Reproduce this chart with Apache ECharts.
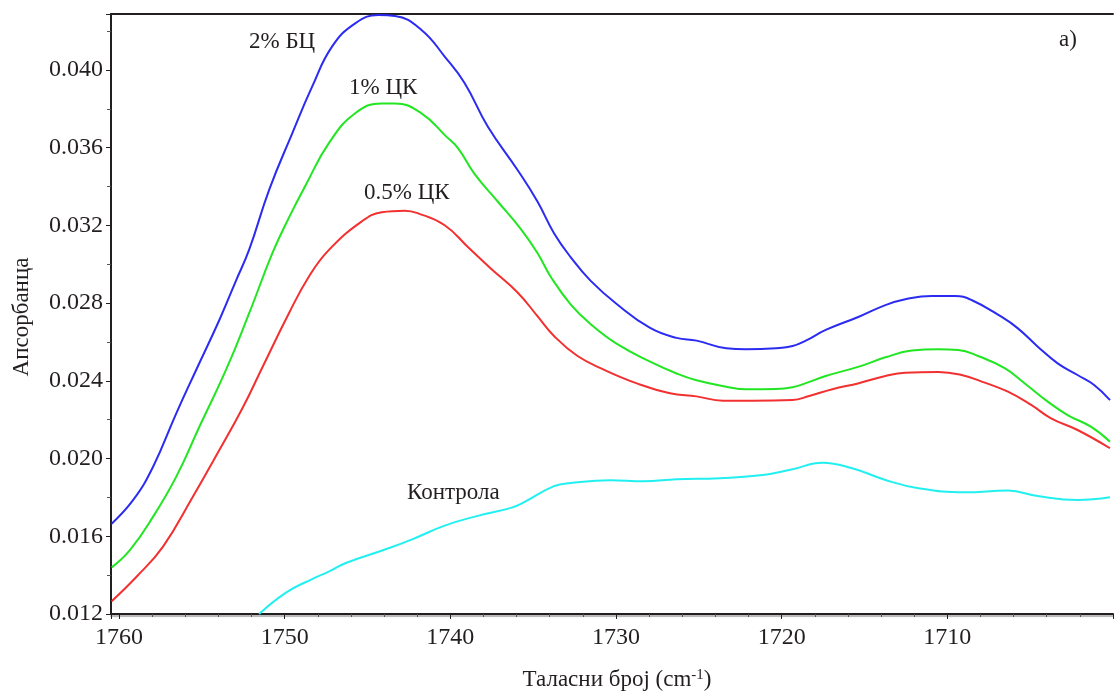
<!DOCTYPE html>
<html>
<head>
<meta charset="utf-8">
<script src="https://cdn.jsdelivr.net/npm/echarts@6/dist/echarts.min.js"></script>
<style>
html,body{margin:0;padding:0;background:#fff;}
#chart{width:1116px;height:695px;}
</style>
</head>
<body>
<div id="chart"></div>
<script>
// ---- data (wavenumber, absorbance) ----
const blueX = [1760.44,1759.14,1757.94,1756.54,1755.34,1753.94,1752.94,1752.14,1750.94,1749.54,1748.34,1747.14,1745.74,1744.34,1743.34,1741.74,1740.34,1739.14,1737.74,1735.94,1734.74,1733.74,1732.74,1731.54,1729.94,1727.94,1726.34,1725.14,1723.34,1722.14,1720.34,1719.34,1718.54,1717.34,1715.34,1713.74,1712.54,1710.94,1709.54,1708.54,1706.74,1705.74,1704.54,1703.34,1702.14,1701.14,1700.18];
const blueY = [0.01665,0.01787,0.01958,0.02233,0.02456,0.02713,0.02915,0.03075,0.03382,0.03674,0.03914,0.04120,0.04240,0.04283,0.04278,0.04206,0.04069,0.03933,0.03709,0.03485,0.03323,0.03160,0.03037,0.02916,0.02794,0.02672,0.02621,0.02607,0.02568,0.02563,0.02568,0.02579,0.02607,0.02662,0.02730,0.02790,0.02820,0.02837,0.02837,0.02816,0.02730,0.02670,0.02576,0.02490,0.02430,0.02379,0.02301];

const greenX = [1760.44,1759.34,1757.94,1756.54,1755.14,1753.54,1752.14,1750.74,1749.74,1748.74,1747.34,1745.74,1744.14,1743.34,1741.74,1740.24,1739.54,1738.54,1737.14,1735.74,1734.74,1733.94,1732.74,1731.54,1729.94,1727.94,1726.34,1725.14,1723.34,1722.14,1720.34,1719.34,1718.54,1717.34,1715.34,1713.74,1712.14,1710.54,1709.34,1708.14,1706.54,1705.34,1703.94,1702.74,1701.34,1700.18];
const greenY = [0.01440,0.01529,0.01701,0.01907,0.02165,0.02456,0.02748,0.03057,0.03240,0.03405,0.03622,0.03777,0.03828,0.03828,0.03777,0.03657,0.03598,0.03465,0.03323,0.03181,0.03058,0.02936,0.02794,0.02693,0.02590,0.02499,0.02438,0.02403,0.02370,0.02357,0.02358,0.02367,0.02388,0.02425,0.02473,0.02521,0.02556,0.02563,0.02559,0.02528,0.02465,0.02388,0.02293,0.02224,0.02164,0.02087];

const redX = [1760.44,1758.94,1757.34,1755.54,1753.94,1752.54,1751.34,1749.74,1748.54,1747.34,1745.34,1744.14,1742.74,1741.94,1740.34,1738.94,1737.54,1735.94,1734.74,1733.74,1732.34,1730.74,1728.74,1726.74,1725.14,1723.54,1721.74,1719.34,1718.34,1716.94,1715.34,1713.74,1712.54,1710.54,1709.14,1707.74,1706.34,1704.94,1703.74,1702.14,1700.18];
const redY = [0.01266,0.01392,0.01547,0.01804,0.02044,0.02260,0.02470,0.02748,0.02936,0.03073,0.03221,0.03268,0.03276,0.03262,0.03201,0.03089,0.02977,0.02855,0.02733,0.02631,0.02529,0.02458,0.02387,0.02336,0.02320,0.02298,0.02298,0.02301,0.02322,0.02357,0.02388,0.02425,0.02442,0.02446,0.02430,0.02391,0.02344,0.02276,0.02207,0.02147,0.02053];

const cyanX = [1751.54,1749.94,1748.34,1747.34,1746.34,1743.94,1742.34,1740.34,1738.34,1736.34,1735.54,1733.74,1732.74,1730.34,1728.34,1726.34,1723.74,1721.14,1719.34,1717.54,1715.74,1713.74,1711.74,1708.94,1706.34,1704.54,1702.14,1700.18];
const cyanY = [0.01200,0.01309,0.01380,0.01418,0.01461,0.01532,0.01583,0.01655,0.01705,0.01746,0.01776,0.01858,0.01874,0.01889,0.01883,0.01893,0.01899,0.01915,0.01945,0.01979,0.01950,0.01890,0.01847,0.01826,0.01835,0.01807,0.01787,0.01801];

const seriesNames = ['2% БЦ', '1% ЦК', '0.5% ЦК', 'Контрола'];
const xTicks = [1760, 1750, 1740, 1730, 1720, 1710];
const yTicks = [0.012, 0.016, 0.020, 0.024, 0.028, 0.032, 0.036, 0.040];

const pairs = (xs, ys) => xs.map((x, i) => [x, ys[i]]);

const FONT = "'Liberation Serif', 'DejaVu Serif', serif";
const TXT = '#231f20';

const chart = echarts.init(document.getElementById('chart'), null, {renderer: 'canvas'});

const lineSeries = (name, data, color) => ({
  name: name, type: 'line', data: data, smooth: 0.45, showSymbol: false,
  lineStyle: {color: color, width: 2}, itemStyle: {color: color}, z: 3
});

chart.setOption({
  backgroundColor: '#fff',
  animation: false,
  grid: {left: 111, right: -3, top: 14, bottom: 81, containLabel: false},
  xAxis: [{
    type: 'value', inverse: true, min: 1700, max: 1760.48, interval: 10,
    axisLine: {show: true, onZero: false, lineStyle: {color: '#231f20', width: 2, shadowColor: 'rgba(0,0,0,0.3)', shadowOffsetY: 2, shadowBlur: 1}},
    axisTick: {show: true, inside: false, length: 5, lineStyle: {color: '#231f20', width: 1}},
    minorTick: {show: true, splitNumber: 5, length: 3, lineStyle: {color: '#555', width: 1}},
    splitLine: {show: false},
    axisLabel: {
      fontFamily: FONT, fontSize: 24, color: TXT, margin: 12,
      formatter: v => xTicks.some(t => Math.abs(t - v) < 1e-6) ? String(Math.round(v)) : ''
    }
  }, {
    type: 'value', position: 'top', inverse: true, min: 1700, max: 1760.48,
    axisLine: {show: true, onZero: false, lineStyle: {color: '#231f20', width: 2}},
    axisTick: {show: false}, axisLabel: {show: false}, splitLine: {show: false}
  }],
  yAxis: {
    type: 'value', min: 0.012, max: 0.04288, interval: 0.004,
    axisLine: {show: true, onZero: false, lineStyle: {color: '#231f20', width: 2}},
    axisTick: {show: true, inside: false, length: 5, lineStyle: {color: '#231f20', width: 1}},
    minorTick: {show: true, splitNumber: 2, length: 4, lineStyle: {color: '#555', width: 1}},
    splitLine: {show: false},
    axisLabel: {
      fontFamily: FONT, fontSize: 24, color: TXT, margin: 8,
      formatter: v => yTicks.some(t => Math.abs(t - v) < 1e-7) ? v.toFixed(3) : ''
    }
  },
  series: [
    lineSeries(seriesNames[0], pairs(blueX, blueY), '#2b2bf2'),
    lineSeries(seriesNames[1], pairs(greenX, greenY), '#22e622'),
    lineSeries(seriesNames[2], pairs(redX, redY), '#f23030'),
    lineSeries(seriesNames[3], pairs(cyanX, cyanY), '#22f0f0')
  ],
  graphic: [
    {type: 'text', left: 249, top: 30, style: {text: seriesNames[0], font: "23px " + FONT, fill: TXT}},
    {type: 'text', left: 349, top: 76, style: {text: seriesNames[1], font: "23px " + FONT, fill: TXT}},
    {type: 'text', left: 364, top: 181, style: {text: seriesNames[2], font: "23px " + FONT, fill: TXT}},
    {type: 'text', left: 407, top: 481, style: {text: seriesNames[3], font: "23px " + FONT, fill: TXT}},
    {type: 'text', left: 1059, top: 28, style: {text: 'a)', font: "23px " + FONT, fill: TXT}},
    {type: 'text', x: 22, y: 317, rotation: Math.PI / 2,
      style: {text: 'Апсорбанца', font: "23px " + FONT, fill: TXT, align: 'center', verticalAlign: 'middle'}},
    {type: 'text', x: 617, y: 680,
      style: {
        text: '{a|Таласни број (cm}{s|-1}{a|)}', align: 'center', verticalAlign: 'middle',
        rich: {
          a: {fontFamily: FONT, fontSize: 23, fill: TXT, color: TXT},
          s: {fontFamily: FONT, fontSize: 15, fill: TXT, color: TXT, verticalAlign: 'top', padding: [0, 0, 10, 0]}
        }
      }}
  ]
});
</script>
</body>
</html>
